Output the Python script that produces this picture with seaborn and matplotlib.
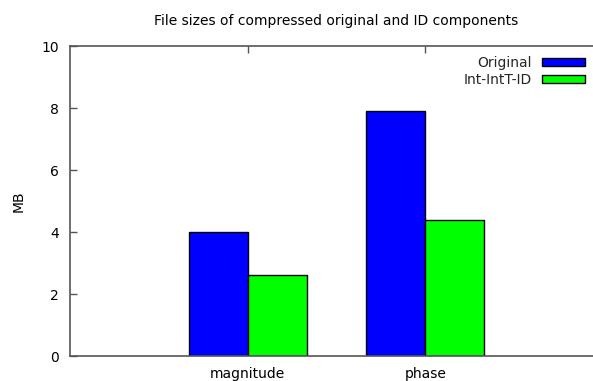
import matplotlib
matplotlib.use("Agg")
import matplotlib.pyplot as plt
import seaborn as sns
import pandas as pd

categories = ["magnitude", "phase"]
series_names = ["Original", "Int-IntT-ID"]
original = [4.0, 7.9]
int_id = [2.6, 4.4]
colors = ["#0000ff", "#00ff00"]

df = pd.DataFrame({
    "component": categories * 2,
    "series": [series_names[0]] * 2 + [series_names[1]] * 2,
    "MB": original + int_id,
})

sns.set_theme(style="white")
plt.rcParams['font.family'] = ['DejaVu Sans']

fig = plt.figure(figsize=(5.93, 3.81), dpi=100)
ax = fig.add_axes([70/593, 25/381, 533/593, 310/381])
sns.barplot(data=df, x="component", y="MB", hue="series", palette=colors,
            width=0.664, edgecolor="black", linewidth=1.0, saturation=1,
            errorbar=None, ax=ax, gap=0)

ax.set_xlim(-1, 2)
ax.set_ylim(0, 10)
ax.set_yticks([0, 2, 4, 6, 8, 10])
ax.set_xlabel("")
ax.set_ylabel("MB", fontsize=10, labelpad=11, color="black")
fig.text(336/593, 1 - 21/381, "File sizes of compressed original and ID components",
         ha="center", va="center", fontsize=10, color="black")

for s in ax.spines.values():
    s.set_color("#555555")
    s.set_linewidth(1.2)
ax.tick_params(axis="both", direction="in", length=5, width=1, color="#555555",
               labelsize=10, labelcolor="black", top=True, left=True,
               bottom=False, right=False, pad=8)
ax.tick_params(axis="x", pad=8)

leg = ax.legend(loc="upper right", bbox_to_anchor=(0.966, 0.968),
                frameon=False, markerfirst=False, fontsize=10,
                handlelength=3.1, handleheight=0.58, labelspacing=0.22,
                handletextpad=0.7, borderaxespad=0, borderpad=0)
for t in leg.get_texts():
    t.set_ha("right")

fig.savefig("out.png", dpi=100)
